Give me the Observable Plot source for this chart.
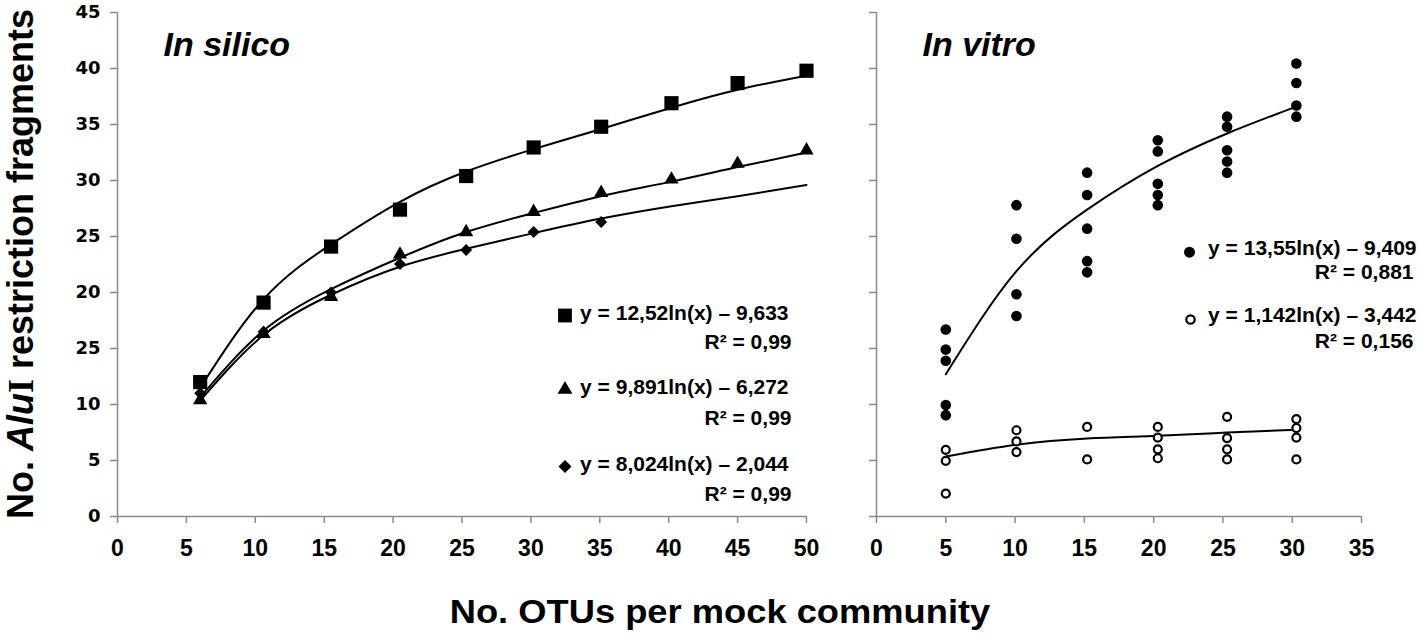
<!DOCTYPE html>
<html>
<head>
<meta charset="utf-8">
<script src="https://cdn.jsdelivr.net/npm/d3@7"></script>
<script src="https://cdn.jsdelivr.net/npm/@observablehq/plot@0.6"></script>
<style>
  body { margin: 0; background: #fff; }
  #wrap { position: relative; width: 1418px; height: 638px; overflow: hidden; background: #fff;
          font-family: "Liberation Sans", Arial, sans-serif; }
  #left { position: absolute; left: 0; top: 0; width: 830px; }
  #right { position: absolute; left: 836px; top: 0; width: 582px; }
  #ylab { position: absolute; left: 0; top: 0; overflow: visible; }
  #xlabel { position: absolute; left: 319.5px; top: 594.8px; width: 800px; height: 33px; line-height: 33px;
            font-size: 33px; font-weight: bold; text-align: center; white-space: nowrap; transform: scaleX(1.1); }
</style>
</head>
<body>
<div id="wrap">
  <div id="left"></div>
  <div id="right"></div>
  <svg id="ylab" width="60" height="638">
    <text transform="translate(33,264) rotate(-90)" text-anchor="middle" font-family="Liberation Sans, Arial, sans-serif"
          font-size="36" font-weight="bold" fill="black">No. <tspan font-style="italic">Alu</tspan><tspan font-family="Liberation Serif, Times New Roman, serif">I</tspan> restriction fragments</text>
  </svg>
  <div id="xlabel">No. OTUs per mock community</div>
</div>
<script>
// ---------- data ----------
// In silico
const silicoX = [6, 10.6, 15.5, 20.5, 25.3, 30.2, 35.1, 40.2, 45, 50];
const squareY = [12.0, 19.1, 24.1, 27.4, 30.4, 32.95, 34.8, 36.9, 38.7, 39.8];
const triangleY = [10.4, 16.3, 19.6, 23.4, 25.4, 27.2, 28.9, 30.1, 31.5, 32.7];
const diamondX = [6, 10.6, 15.5, 20.5, 25.3, 30.2, 35.1];
const diamondY = [11.0, 16.5, 20.0, 22.55, 23.8, 25.4, 26.3];
const silicoCurveX = [6, 10.6, 15.5, 20.5, 25.3, 30.2, 35.1, 40.2, 45, 50];
const squareCurve = [11.5, 19.4, 24.3, 28.1, 30.8, 32.8, 34.6, 36.5, 38.1, 39.35];
const triangleCurve = [10.65, 16.6, 20.3, 23.1, 25.4, 27.1, 28.6, 29.9, 31.2, 32.5];
const diamondCurve = [10.35, 16.2, 19.8, 22.3, 23.9, 25.3, 26.6, 27.7, 28.6, 29.6];

// In vitro
const vitroX = [5, 10.1, 15.2, 20.3, 25.3, 30.3];
const filledY = [
  [16.7, 14.9, 13.9, 9.95, 9.05],
  [27.8, 24.8, 19.85, 17.9],
  [30.7, 28.7, 25.7, 22.8, 21.8],
  [33.6, 32.6, 29.7, 28.7, 27.8],
  [35.7, 34.8, 32.7, 31.7, 30.7],
  [40.45, 38.7, 36.7, 35.7]
];
const openY = [
  [5.95, 4.97, 2.05],
  [7.7, 6.7, 5.75],
  [8.0, 5.1],
  [8.0, 7.05, 6.0, 5.2],
  [8.9, 7.0, 6.0, 5.1],
  [8.7, 7.9, 7.05, 5.1]
];
const vitroCurveX = [5, 10.1, 15.2, 20.3, 25.3, 30.3];
const filledCurve = [12.7, 21.9, 27.4, 31.3, 34.2, 36.6];
const openCurve = [5.35, 6.4, 6.96, 7.2, 7.5, 7.75];

// axes
const yTicks = [0, 5, 10, 15, 20, 25, 30, 35, 40, 45];
const yTickLabels = ["0", "5", "10", "25", "20", "25", "30", "35", "40", "45"];
const silicoXTicks = [0, 5, 10, 15, 20, 25, 30, 35, 40, 45, 50];
const vitroXTicks = [0, 5, 10, 15, 20, 25, 30, 35];

// legends / titles
const silicoTitle = "In silico";
const vitroTitle = "In vitro";
const silicoEq = ["y = 12,52ln(x) \u2013 9,633", "y = 9,891ln(x) \u2013 6,272", "y = 8,024ln(x) \u2013 2,044"];
const silicoR2 = ["R\u00b2 = 0,99", "R\u00b2 = 0,99", "R\u00b2 = 0,99"];
const vitroEq = ["y = 13,55ln(x) \u2013 9,409", "y = 1,142ln(x) \u2013 3,442"];
const vitroR2 = ["R\u00b2 = 0,881", "R\u00b2 = 0,156"];

// ---------- build tables ----------
const pts = (xs, ys) => xs.map((x, i) => ({x, y: ys[i]}));
const squares = pts(silicoX, squareY);
const triangles = pts(silicoX, triangleY);
const diamonds = pts(diamondX, diamondY);
const sqLine = pts(silicoCurveX, squareCurve);
const trLine = pts(silicoCurveX, triangleCurve);
const diLine = pts(silicoCurveX, diamondCurve);
const filled = vitroX.flatMap((x, i) => filledY[i].map(y => ({x, y})));
const open = vitroX.flatMap((x, i) => openY[i].map(y => ({x, y})));
const fLine = pts(vitroCurveX, filledCurve);
const oLine = pts(vitroCurveX, openCurve);

const yLabelMap = new Map(yTicks.map((t, i) => [t, yTickLabels[i]]));

const diamondSym = {
  draw(ctx, size) {
    const s = Math.sqrt(size / 2);
    ctx.moveTo(0, -s); ctx.lineTo(s, 0); ctx.lineTo(0, s); ctx.lineTo(-s, 0); ctx.closePath();
  }
};

const AX = "#8a8a8a";
const tickFont = "Liberation Sans, Arial, sans-serif";
const yFont = "DejaVu Sans, Verdana, sans-serif";
const legFont = {fontFamily: "Liberation Sans, Arial, sans-serif", fontSize: 21, fontWeight: "bold", fill: "black"};
const CURVE = "natural";

function legendText(str, dx, dy) {
  return Plot.text([str], {text: d => d, frameAnchor: "top-left", dx, dy, textAnchor: "end", lineAnchor: "middle", ...legFont});
}
function title(str) {
  return Plot.text([str], {text: d => d, frameAnchor: "top-left", dx: 46, dy: 43, textAnchor: "start", lineAnchor: "bottom",
    fontSize: 34, fontStyle: "italic", fontWeight: "bold", fontFamily: "Liberation Sans, Arial, sans-serif", fill: "black"});
}

const common = {
  height: 566, marginTop: 12, marginBottom: 50,
  style: {background: "white", maxWidth: "none", overflow: "visible"},
  y: {domain: [0, 45]}
};

// ---------- left panel ----------
const left = Plot.plot({
  ...common,
  width: 830, marginLeft: 117, marginRight: 24,
  x: {domain: [0, 50]},
  marks: [
    Plot.ruleY([0], {stroke: AX, strokeWidth: 1.5}),
    Plot.ruleX([0], {stroke: AX, strokeWidth: 1.5}),
    Plot.axisY(yTicks, {tickSize: 7, tickPadding: 10, stroke: AX, strokeWidth: 1.5, fill: "black",
      tickFormat: d => yLabelMap.get(d), fontSize: 18, fontWeight: "bold", fontFamily: yFont, label: null}),
    Plot.axisX(silicoXTicks, {tickSize: 7, tickPadding: 16, stroke: AX, strokeWidth: 1.5, fill: "black",
      fontSize: 23, fontWeight: "bold", fontFamily: tickFont, label: null}),
    Plot.line(sqLine, {x: "x", y: "y", curve: CURVE, stroke: "black", strokeWidth: 2}),
    Plot.line(trLine, {x: "x", y: "y", curve: CURVE, stroke: "black", strokeWidth: 2}),
    Plot.line(diLine, {x: "x", y: "y", curve: CURVE, stroke: "black", strokeWidth: 2}),
    Plot.dot(squares, {x: "x", y: "y", symbol: "square", r: 8, fill: "black"}),
    Plot.dot(triangles, {x: "x", y: "y", symbol: "triangle", r: 5.3, fill: "black"}),
    Plot.dot(diamonds, {x: "x", y: "y", symbol: diamondSym, r: 4.8, fill: "black"}),
    title(silicoTitle),
    Plot.dot([0], {frameAnchor: "top-left", dx: 447.5, dy: 303, symbol: "square", r: 7.8, fill: "black"}),
    Plot.dot([0], {frameAnchor: "top-left", dx: 447.5, dy: 377, symbol: "triangle", r: 5.5, fill: "black"}),
    Plot.dot([0], {frameAnchor: "top-left", dx: 447.5, dy: 454, symbol: diamondSym, r: 5.2, fill: "black"}),
    legendText(silicoEq[0], 671, 300.5),
    legendText(silicoR2[0], 674, 329.7),
    legendText(silicoEq[1], 671, 375),
    legendText(silicoR2[1], 674, 406),
    legendText(silicoEq[2], 671, 452),
    legendText(silicoR2[2], 674, 482)
  ]
});
document.getElementById("left").append(left);

// ---------- right panel ----------
const right = Plot.plot({
  ...common,
  width: 582, marginLeft: 40, marginRight: 57,
  x: {domain: [0, 35]},
  marks: [
    Plot.ruleY([0], {stroke: AX, strokeWidth: 1.5}),
    Plot.ruleX([0], {stroke: AX, strokeWidth: 1.5}),
    Plot.axisY(yTicks, {tickSize: 7, stroke: AX, strokeWidth: 1.5, tickFormat: () => "", label: null}),
    Plot.axisX(vitroXTicks, {tickSize: 7, tickPadding: 16, stroke: AX, strokeWidth: 1.5, fill: "black",
      fontSize: 23, fontWeight: "bold", fontFamily: tickFont, label: null}),
    Plot.line(fLine, {x: "x", y: "y", curve: CURVE, stroke: "black", strokeWidth: 2}),
    Plot.line(oLine, {x: "x", y: "y", curve: CURVE, stroke: "black", strokeWidth: 2}),
    Plot.dot(filled, {x: "x", y: "y", r: 5.3, fill: "black"}),
    Plot.dot(open, {x: "x", y: "y", r: 4, fill: "white", stroke: "black", strokeWidth: 2.2}),
    title(vitroTitle),
    Plot.dot([0], {frameAnchor: "top-left", dx: 313, dy: 239.7, r: 5.5, fill: "black"}),
    Plot.dot([0], {frameAnchor: "top-left", dx: 314, dy: 307, r: 4.2, fill: "white", stroke: "black", strokeWidth: 2.2}),
    legendText(vitroEq[0], 540, 235.3),
    legendText(vitroR2[0], 537, 260),
    legendText(vitroEq[1], 540, 302.5),
    legendText(vitroR2[1], 537, 328.3)
  ]
});
document.getElementById("right").append(right);
</script>
</body>
</html>
